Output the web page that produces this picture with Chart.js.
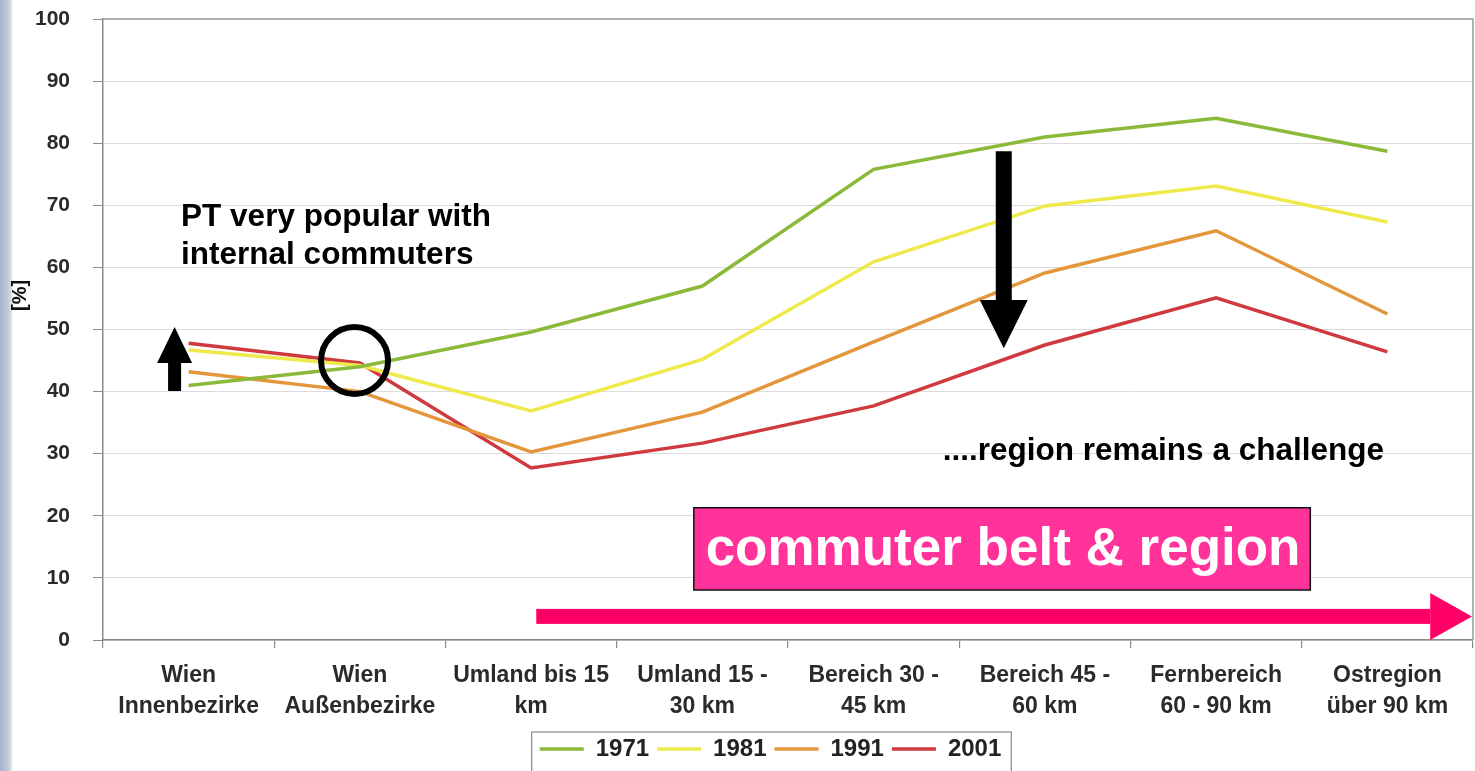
<!DOCTYPE html>
<html>
<head>
<meta charset="utf-8">
<script src="https://cdn.jsdelivr.net/npm/chart.js@4"></script>
<style>
  html, body { margin: 0; padding: 0; }
  body {
    width: 1475px; height: 771px; overflow: hidden;
    background: linear-gradient(to right, #a7b3ca 0px, #bcc6d8 7px, #d6dce8 11px, #ffffff 13px);
  }
  #wrap { position: absolute; left: 0; top: 0; width: 1475px; height: 771px; }
</style>
</head>
<body>
<div id="wrap"><canvas id="myChart" width="1475" height="771"></canvas></div>
<script>
// categories (distance zones)
const zones = [
    ['Wien', 'Innenbezirke'],
    ['Wien', 'Außenbezirke'],
    ['Umland bis 15', 'km'],
    ['Umland 15 -', '30 km'],
    ['Bereich 30 -', '45 km'],
    ['Bereich 45 -', '60 km'],
    ['Fernbereich', '60 - 90 km'],
    ['Ostregion', 'über 90 km']
];

// PT share in % per census year
const years = ['1971', '1981', '1991', '2001'];
const pt1971 = [41, 44, 49.6, 57, 75.8, 81, 84, 78.7];
const pt1981 = [46.7, 44.2, 36.9, 45.2, 60.9, 69.9, 73.1, 67.3];
const pt1991 = [43.2, 40, 30.3, 36.7, 48, 59.1, 65.9, 52.5];
const pt2001 = [47.8, 44.6, 27.7, 31.7, 37.7, 47.5, 55.1, 46.4];

const yTicks = [0, 10, 20, 30, 40, 50, 60, 70, 80, 90, 100];

const lineColors = ['#8bba3a', '#eeea4c', '#e4963a', '#cf3a3e'];
const seriesData = [pt1971, pt1981, pt1991, pt2001];

const FONT = '"Liberation Sans", Arial, sans-serif';
const LEGEND_SHIFT = 34; // legend sits a bit right of centre in the slide

// block arrow, works both ways (tip above or below the tail)
function blockArrow(ctx, cx, tipY, baseY, tailY, headHalf, shaftHalf) {
    ctx.beginPath();
    ctx.moveTo(cx, tipY);
    ctx.lineTo(cx + headHalf, baseY);
    ctx.lineTo(cx + shaftHalf, baseY);
    ctx.lineTo(cx + shaftHalf, tailY);
    ctx.lineTo(cx - shaftHalf, tailY);
    ctx.lineTo(cx - shaftHalf, baseY);
    ctx.lineTo(cx - headHalf, baseY);
    ctx.closePath();
    ctx.fill();
}

// plot frame, axis title, legend box and the slide annotations
const extras = {
    id: 'extras',
    afterLayout(chart) {
        chart.legend.left += LEGEND_SHIFT;
        chart.legend.right += LEGEND_SHIFT;
    },
    afterDraw(chart) {
        const ctx = chart.ctx;
        const a = chart.chartArea;
        const X = f => chart.scales.x.getPixelForValue(f);
        const Y = v => chart.scales.y.getPixelForValue(v);

        ctx.save();
        // top + right frame of plot area
        ctx.strokeStyle = '#9a9a9a';
        ctx.lineWidth = 1.5;
        ctx.beginPath();
        ctx.moveTo(a.left, a.top);
        ctx.lineTo(a.right, a.top);
        ctx.lineTo(a.right, a.bottom);
        ctx.stroke();

        // y axis title
        ctx.save();
        ctx.translate(20, Y(55.5));
        ctx.rotate(-Math.PI / 2);
        ctx.fillStyle = '#111';
        ctx.font = 'bold 20px ' + FONT;
        ctx.textAlign = 'center';
        ctx.textBaseline = 'middle';
        ctx.fillText('[%]', 0, 0);
        ctx.restore();

        // legend frame
        const boxes = chart.legend.legendHitBoxes;
        if (boxes && boxes.length) {
            const l = Math.min(...boxes.map(b => b.left)) - 8;
            const r = Math.max(...boxes.map(b => b.left + b.width)) + 10;
            const t = chart.legend.top + 3;
            ctx.strokeStyle = '#888';
            ctx.lineWidth = 1.2;
            ctx.strokeRect(l, t, r - l, chart.height - t + 2);
        }

        ctx.fillStyle = '#000';
        // up arrow
        blockArrow(ctx, X(-0.082), Y(50.4), Y(44.6), Y(40.1), 17.5, 6.5);
        // down arrow
        blockArrow(ctx, X(4.76), Y(47.0), Y(54.75), Y(78.7), 24, 8);

        // circle
        ctx.strokeStyle = '#000';
        ctx.lineWidth = 6;
        ctx.beginPath();
        ctx.arc(X(0.969), Y(45.0), 33.5, 0, Math.PI * 2);
        ctx.stroke();

        // texts
        ctx.fillStyle = '#000';
        ctx.font = 'bold 31.5px ' + FONT;
        ctx.textBaseline = 'middle';
        ctx.textAlign = 'left';
        ctx.fillText('PT very popular with', X(-0.044), Y(68.1));
        ctx.fillText('internal commuters', X(-0.044), Y(62.0));
        ctx.textAlign = 'right';
        ctx.fillText('....region remains a challenge', X(6.98), Y(30.4));

        // pink label
        const bl = X(2.95), br = X(6.55), bt = Y(21.3), bb = Y(8.05);
        ctx.fillStyle = '#ff3399';
        ctx.fillRect(bl, bt, br - bl, bb - bt);
        ctx.strokeStyle = '#111';
        ctx.lineWidth = 1.5;
        ctx.strokeRect(bl, bt, br - bl, bb - bt);
        ctx.fillStyle = '#fff';
        ctx.textAlign = 'center';
        ctx.font = 'bold 53px ' + FONT;
        ctx.fillText('commuter belt & region', (bl + br) / 2 + 1, Y(14.4));

        // pink arrow
        const ay = Y(3.8);
        const headX = X(7.25);
        ctx.fillStyle = '#ff0066';
        ctx.fillRect(X(2.03), ay - 7.5, headX - X(2.03), 15);
        ctx.beginPath();
        ctx.moveTo(headX, ay - 23.5);
        ctx.lineTo(a.right - 1, ay);
        ctx.lineTo(headX, ay + 23.5);
        ctx.closePath();
        ctx.fill();
        ctx.restore();
    }
};

const ctx = document.getElementById('myChart').getContext('2d');
const myChart = new Chart(ctx, {
    type: 'line',
    data: {
        labels: zones,
        datasets: years.map((yr, i) => ({
            label: yr,
            data: seriesData[i],
            borderColor: lineColors[i],
            backgroundColor: lineColors[i],
            borderWidth: 3.5,
            pointRadius: 0,
            tension: 0,
            fill: false
        }))
    },
    options: {
        responsive: false,
        animation: false,
        layout: { padding: { top: 19, right: 2, bottom: 0, left: 0 } },
        plugins: {
            tooltip: { enabled: false },
            legend: {
                position: 'bottom',
                labels: {
                    usePointStyle: true,
                    pointStyle: 'line',
                    pointStyleWidth: 44,
                    padding: 8,
                    color: '#222',
                    font: { family: FONT, size: 24, weight: 'bold' }
                }
            }
        },
        scales: {
            x: {
                offset: true,
                afterFit: s => { s.height = 771 - 640 - s.chart.legend.height; },
                grid: { display: true, drawOnChartArea: false, offset: true, tickLength: 8, color: '#8a8a8a', lineWidth: 1.2 },
                border: { color: '#8a8a8a', width: 1.5 },
                ticks: {
                    color: '#2a2a2a',
                    padding: 12,
                    maxRotation: 0,
                    autoSkip: false,
                    font: { family: FONT, size: 23, weight: 'bold', lineHeight: 1.35 }
                }
            },
            y: {
                min: 0,
                max: 100,
                afterFit: s => {
                    s.width = 103;
                    s.paddingTop = 12;
                    s.paddingBottom = 12;
                },
                afterBuildTicks: s => { s.ticks = yTicks.map(v => ({ value: v })); },
                grid: {
                    color: '#dcdcdc',
                    lineWidth: 1,
                    borderDash: [2, 2],
                    tickLength: 10,
                    tickColor: '#8a8a8a',
                    tickBorderDash: []
                },
                border: { color: '#8a8a8a', width: 1.5 },
                ticks: {
                    color: '#2a2a2a',
                    padding: 23,
                    font: { family: FONT, size: 21, weight: 'bold' }
                }
            }
        }
    },
    plugins: [extras]
});
</script>
</body>
</html>
